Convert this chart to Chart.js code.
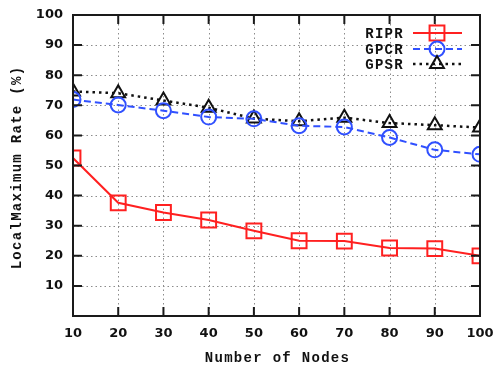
<!DOCTYPE html>
<html>
<head>
<meta charset="utf-8">
<script src="https://cdn.jsdelivr.net/npm/chart.js@4"></script>
<style>
  html, body { margin: 0; padding: 0; background: #fff; }
  canvas { display: block; }
</style>
</head>
<body>
<canvas id="chart" width="495" height="365"></canvas>
<script>
// --- DATA ---
const nodes = [10, 20, 30, 40, 50, 60, 70, 80, 90, 100];
const ripr = [52.5, 37.6, 34.4, 31.9, 28.3, 25.0, 24.9, 22.6, 22.4, 20.0];
const gpcr = [71.9, 70.1, 68.2, 66.1, 65.5, 63.2, 62.8, 59.3, 55.2, 53.7];
const gpsr = [74.6, 74.0, 71.6, 69.2, 65.6, 64.7, 65.9, 64.1, 63.4, 62.6];
const yTicks = [10, 20, 30, 40, 50, 60, 70, 80, 90, 100];
const xTitle = 'Number of Nodes';
const yTitle = 'LocalMaximum Rate (%)';

const toPoints = (vals) => vals.map((v, i) => ({ x: nodes[i], y: v }));
const monoFont = 'bold 14px "Liberation Mono", "DejaVu Sans Mono", monospace';

// gnuplot-like frame, dotted grid, inward ticks, titles and legend
const gnuplotLook = {
    id: 'gnuplotLook',
    beforeDatasetsDraw(chart) {
        const { ctx, chartArea: a, scales: { x, y } } = chart;
        ctx.save();
        ctx.strokeStyle = '#8c8c8c';
        ctx.lineWidth = 1;
        ctx.setLineDash([1.5, 3]);
        nodes.slice(1, -1).forEach(v => {
            const px = Math.round(x.getPixelForValue(v)) + 0.5;
            ctx.beginPath(); ctx.moveTo(px, a.top); ctx.lineTo(px, a.bottom); ctx.stroke();
        });
        yTicks.slice(0, -1).forEach(v => {
            const py = Math.round(y.getPixelForValue(v)) + 0.5;
            ctx.beginPath(); ctx.moveTo(a.left, py); ctx.lineTo(a.right, py); ctx.stroke();
        });
        ctx.restore();
    },
    afterDraw(chart) {
        const { ctx, chartArea: a, scales: { x, y } } = chart;
        ctx.save();
        ctx.strokeStyle = '#1a1a1a';
        ctx.lineWidth = 2;
        ctx.setLineDash([]);
        ctx.strokeRect(a.left, a.top, a.right - a.left, a.bottom - a.top);
        const t = 9;
        nodes.slice(1, -1).forEach(v => {
            const px = x.getPixelForValue(v);
            ctx.beginPath();
            ctx.moveTo(px, a.bottom); ctx.lineTo(px, a.bottom - t);
            ctx.moveTo(px, a.top); ctx.lineTo(px, a.top + t);
            ctx.stroke();
        });
        yTicks.slice(0, -1).forEach(v => {
            const py = y.getPixelForValue(v);
            ctx.beginPath();
            ctx.moveTo(a.left, py); ctx.lineTo(a.left + t, py);
            ctx.moveTo(a.right, py); ctx.lineTo(a.right - t, py);
            ctx.stroke();
        });

        // axis titles
        ctx.fillStyle = '#111';
        ctx.font = monoFont;
        ctx.letterSpacing = '1.3px';
        ctx.textAlign = 'center';
        ctx.textBaseline = 'middle';
        ctx.fillText(xTitle, (a.left + a.right) / 2 + 1, 358);
        ctx.save();
        ctx.translate(17, (a.top + a.bottom) / 2 + 2);
        ctx.rotate(-Math.PI / 2);
        ctx.fillText(yTitle, 0, 0);
        ctx.restore();

        // legend: text right-aligned, then line sample with marker
        const rows = [33, 49, 64];
        chart.data.datasets.forEach((ds, i) => {
            const ly = rows[i];
            ctx.fillStyle = '#111';
            ctx.textAlign = 'right';
            ctx.fillText(ds.label, 404, ly + 1);
            ctx.strokeStyle = ds.borderColor;
            ctx.lineWidth = ds.borderWidth;
            ctx.setLineDash(ds.borderDash || []);
            ctx.beginPath(); ctx.moveTo(413, ly); ctx.lineTo(462, ly); ctx.stroke();
            ctx.setLineDash([]);
            ctx.lineWidth = ds.pointBorderWidth;
            ctx.fillStyle = 'rgba(0,0,0,0)';
            Chart.helpers.drawPoint(ctx, {
                pointStyle: ds.pointStyle, radius: ds.pointRadius, rotation: 0,
                borderWidth: ds.pointBorderWidth
            }, 437, ly);
        });
        ctx.restore();
    }
};

new Chart(document.getElementById('chart'), {
    type: 'line',
    data: {
        datasets: [{
            label: 'RIPR',
            data: toPoints(ripr),
            borderColor: '#ff2020',
            borderWidth: 2,
            pointStyle: 'rect',
            pointRadius: 10.5,
            pointBorderWidth: 2,
            pointBackgroundColor: 'rgba(0,0,0,0)',
            tension: 0
        }, {
            label: 'GPCR',
            data: toPoints(gpcr),
            borderColor: '#3050ff',
            borderWidth: 2,
            borderDash: [7, 4],
            pointStyle: 'circle',
            pointRadius: 7.5,
            pointBorderWidth: 2,
            pointBackgroundColor: 'rgba(0,0,0,0)',
            tension: 0
        }, {
            label: 'GPSR',
            data: toPoints(gpsr),
            borderColor: '#111111',
            borderWidth: 2.5,
            borderDash: [2.5, 4],
            pointStyle: 'triangle',
            pointRadius: 8,
            pointBorderWidth: 2,
            pointBackgroundColor: 'rgba(0,0,0,0)',
            tension: 0
        }]
    },
    options: {
        responsive: false,
        animation: false,
        layout: { padding: { left: 0, right: 15, top: 15, bottom: 0 } },
        plugins: { legend: { display: false }, tooltip: { enabled: false } },
        scales: {
            x: {
                type: 'linear',
                min: 10, max: 100,
                grid: { display: false, drawTicks: false },
                border: { display: false },
                afterFit: s => { s.height = 49; s.paddingRight = 0; s.paddingLeft = 0; },
                afterBuildTicks: s => { s.ticks = nodes.map(v => ({ value: v })); },
                ticks: {
                    color: '#111', padding: 10, maxRotation: 0,
                    font: { family: '"DejaVu Sans", sans-serif', size: 13, weight: 'bold' }
                }
            },
            y: {
                min: 0, max: 100,
                grid: { display: false, drawTicks: false },
                border: { display: false },
                afterFit: s => { s.width = 73; s.paddingTop = 0; s.paddingBottom = 0; },
                afterBuildTicks: s => { s.ticks = yTicks.map(v => ({ value: v })); },
                ticks: {
                    color: '#111', padding: 10,
                    font: { family: '"DejaVu Sans", sans-serif', size: 13, weight: 'bold' }
                }
            }
        }
    },
    plugins: [gnuplotLook]
});
</script>
</body>
</html>
